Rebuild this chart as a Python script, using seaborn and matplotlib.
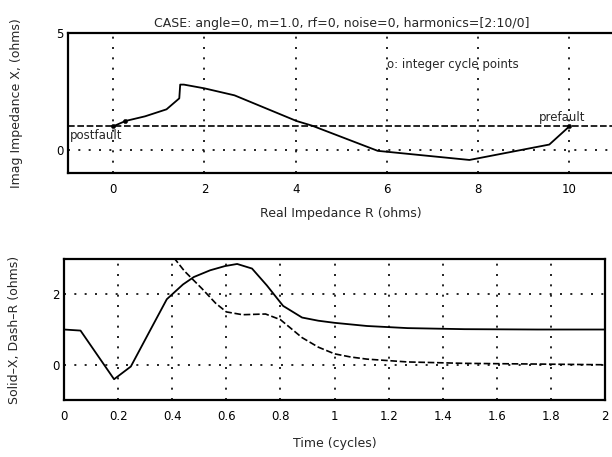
import matplotlib
matplotlib.use("Agg")
import matplotlib.pyplot as plt
import seaborn as sns

# ---------------- data ----------------
# impedance trajectory (R, X), prefault -> postfault
r_path = [10.0, 9.56, 7.81, 5.8, 4.36, 4.02, 2.66, 2.0, 1.55, 1.47, 1.45, 1.17, 0.7, 0.27, 0.0]
x_path = [1.0, 0.22, -0.44, -0.05, 1.03, 1.23, 2.33, 2.63, 2.79, 2.79, 2.2, 1.73, 1.43, 1.23, 1.0]

# integer cycle points (t = 0, 1, 2)
cycle_r = [10.0, 0.27, 0.0]
cycle_x = [1.0, 1.23, 1.0]

# dashed reference level in the R-X plane
line_x_level = 1.0

# X over time (solid)
t_x = [0, 0.061, 0.185, 0.247, 0.32, 0.38, 0.44, 0.48, 0.54, 0.595, 0.64, 0.695,
       0.75, 0.81, 0.88, 0.94, 1.0, 1.12, 1.27, 1.48, 1.75, 2.0]
x_t = [1.0, 0.97, -0.41, -0.05, 1.0, 1.86, 2.28, 2.49, 2.68, 2.8, 2.86, 2.73,
       2.25, 1.67, 1.34, 1.25, 1.19, 1.1, 1.04, 1.01, 1.0, 1.0]

# R over time (dashed)
t_r = [0, 0.061, 0.185, 0.247, 0.32, 0.335, 0.41, 0.445, 0.51, 0.56, 0.60, 0.66,
       0.745, 0.80, 0.88, 0.94, 1.0, 1.06, 1.12, 1.27, 1.48, 1.75, 2.0]
r_t = [10.0, 10.0, 7.8, 5.8, 4.36, 4.02, 3.0, 2.66, 2.16, 1.75, 1.5, 1.42,
       1.44, 1.28, 0.77, 0.5, 0.31, 0.22, 0.16, 0.08, 0.04, 0.02, 0.0]

top_xticks = [0, 2, 4, 6, 8, 10]
top_yticks = [0, 5]
bot_xticks = [0, 0.2, 0.4, 0.6, 0.8, 1.0, 1.2, 1.4, 1.6, 1.8, 2.0]
bot_xlabels = ["0", "0.2", "0.4", "0.6", "0.8", "1", "1.2", "1.4", "1.6", "1.8", "2"]
bot_yticks = [0, 2]

title = "CASE: angle=0, m=1.0, rf=0, noise=0, harmonics=[2:10/0]"

# ---------------- style ----------------
sns.set_style("white")
plt.rcParams["font.family"] = ["DejaVu Sans"]

dotted = (0, (1.2, 5))
dashed = (0, (4, 1.6))

fig = plt.figure(figsize=(6.12, 4.57), dpi=100)
ax1 = fig.add_axes([0.1103, 0.6214, 0.8946, 0.3063])
ax2 = fig.add_axes([0.1046, 0.1247, 0.8840, 0.3085])


def style_axes(ax):
    for s in ax.spines.values():
        s.set_color("black")
        s.set_linewidth(1.6)
    ax.grid(True, color="black", linestyle=dotted, linewidth=1.2)
    ax.tick_params(direction="in", length=3, width=1, colors="black",
                   labelsize=8.5, top=False, right=False)
    ax.tick_params(axis="x", pad=7)
    ax.tick_params(axis="y", pad=3)


# ---------------- top: R-X plane ----------------
sns.lineplot(x=r_path, y=x_path, sort=False, estimator=None,
             color="black", linewidth=1.3, ax=ax1)
ax1.axhline(line_x_level, color="black", linestyle=dashed, linewidth=1.2)
sns.scatterplot(x=cycle_r, y=cycle_x, marker="o", s=10, color="black",
                edgecolor="black", ax=ax1, zorder=5)
ax1.set_xlim(-1, 11)
ax1.set_ylim(-1, 5)
ax1.set_xticks(top_xticks)
ax1.set_yticks(top_yticks)
style_axes(ax1)
ax1.set_title(title, fontsize=9, pad=4)
ax1.set_xlabel("Real Impedance R (ohms)", fontsize=9, labelpad=8)
ax1.set_ylabel("Imag Impedance X, (ohms)", fontsize=9)
ax1.yaxis.set_label_coords(-0.082, 0.5)
ax1.text(-0.95, 0.59, "postfault", ha="left", va="center", fontsize=8.5)
ax1.text(9.85, 1.36, "prefault", ha="center", va="center", fontsize=8.5)
ax1.text(6.0, 3.65, "o: integer cycle points", ha="left", va="center", fontsize=8.5)

# ---------------- bottom: X and R against time ----------------
sns.lineplot(x=t_x, y=x_t, estimator=None, color="black", linewidth=1.3, ax=ax2)
sns.lineplot(x=t_r, y=r_t, estimator=None, color="black", linewidth=1.2,
             linestyle=dashed, ax=ax2)
ax2.set_xlim(0, 2)
ax2.set_ylim(-1, 3)
ax2.set_xticks(bot_xticks)
ax2.set_xticklabels(bot_xlabels)
ax2.set_yticks(bot_yticks)
style_axes(ax2)
ax2.set_xlabel("Time (cycles)", fontsize=9, labelpad=10)
ax2.set_ylabel("Solid\u2013X, Dash\u2013R (ohms)", fontsize=9)
ax2.yaxis.set_label_coords(-0.08, 0.5)

fig.savefig("out.png", dpi=100)
